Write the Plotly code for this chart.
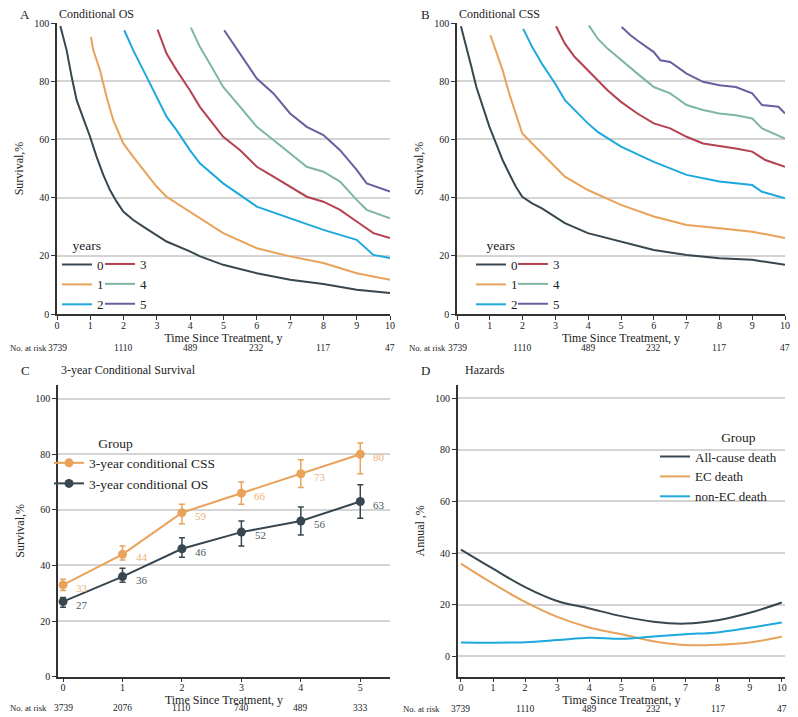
import plotly.graph_objects as go

W, H = 798, 717

# ---- panel A: conditional OS (Kaplan-Meier) ----
os_times = [
    [0.1, 0.29, 0.44, 0.59, 0.79, 0.99, 1.19, 1.39, 1.59, 1.79, 1.99, 2.29, 2.59, 2.99, 3.29, 3.99, 4.3, 4.99, 6.0, 7.0, 8.0, 9.0, 10.0],
    [1.02, 1.09, 1.29, 1.49, 1.69, 1.99, 2.29, 2.59, 2.99, 3.29, 3.99, 4.29, 4.99, 6.0, 7.0, 8.0, 9.0, 10.0],
    [2.02, 2.29, 2.59, 2.99, 3.29, 3.59, 3.99, 4.29, 4.99, 6.0, 7.0, 8.0, 9.0, 9.5, 10.0],
    [3.02, 3.29, 3.59, 3.99, 4.29, 4.59, 4.99, 5.5, 6.0, 6.5, 7.0, 7.5, 8.0, 8.5, 9.0, 9.5, 10.0],
    [4.02, 4.29, 4.59, 4.99, 5.5, 6.0, 6.5, 7.0, 7.5, 8.0, 8.5, 9.0, 9.3, 10.0],
    [5.02, 5.29, 5.5, 6.0, 6.5, 7.0, 7.5, 8.0, 8.5, 9.0, 9.3, 10.0],
]
os_surv = [
    [99, 90.6, 81.5, 73.5, 67.2, 61, 54, 47.8, 42.6, 38.6, 35.2, 32.3, 30, 27.2, 24.9, 21.5, 19.8, 16.9, 14, 11.8, 10.3, 8.3, 7.2],
    [95.2, 90.6, 83.8, 74.6, 66.6, 58.6, 54, 49.5, 43.8, 40.3, 35.2, 32.9, 27.8, 22.6, 19.8, 17.5, 14, 11.8],
    [97.5, 90.6, 83.8, 74.6, 67.8, 63.2, 56.3, 51.8, 44.9, 36.9, 32.9, 28.9, 25.5, 20.3, 19.2],
    [97.7, 89.5, 83.8, 76.9, 71.2, 66.6, 60.9, 56.3, 50.6, 47.2, 43.8, 40.3, 38.6, 35.8, 31.8, 27.8, 26.1],
    [98.4, 91.8, 86, 78, 71.2, 64.3, 59.8, 55.2, 50.6, 48.9, 45.5, 39.2, 35.8, 32.9],
    [97.5, 92.9, 89.5, 80.9, 75.8, 68.9, 64.3, 61.5, 56.3, 49.5, 44.9, 42.1],
]

# ---- panel B: conditional CSS ----
css_times = [
    [0.12, 0.29, 0.44, 0.59, 0.79, 0.99, 1.19, 1.39, 1.59, 1.79, 1.99, 2.29, 2.59, 2.99, 3.29, 3.99, 5.0, 6.0, 7.0, 8.0, 9.0, 10.0],
    [1.02, 1.19, 1.39, 1.59, 1.79, 1.99, 2.29, 2.59, 2.99, 3.29, 3.99, 5.0, 6.0, 7.0, 8.0, 9.0, 9.5, 10.0],
    [2.02, 2.29, 2.59, 2.99, 3.29, 3.59, 3.99, 4.29, 5.0, 6.0, 7.0, 8.0, 9.0, 9.3, 10.0],
    [3.02, 3.29, 3.59, 3.99, 4.29, 4.59, 5.0, 5.5, 6.0, 6.5, 7.0, 7.5, 8.0, 8.5, 9.0, 9.4, 10.0],
    [4.02, 4.29, 4.59, 5.0, 5.5, 6.0, 6.5, 7.0, 7.5, 8.0, 8.5, 9.0, 9.3, 10.0],
    [5.02, 5.29, 5.5, 6.0, 6.2, 6.5, 7.0, 7.5, 8.0, 8.5, 9.0, 9.3, 9.8, 10.0],
]
css_surv = [
    [98.9, 91.8, 84.9, 78, 71.2, 64.3, 58.6, 52.9, 48.3, 43.8, 40.3, 38, 36.3, 33.5, 31.2, 27.8, 24.9, 22, 20.3, 19.2, 18.6, 16.9],
    [95.8, 90.6, 83.8, 75.8, 68.9, 62, 58.6, 55.2, 50.6, 47.2, 42.6, 37.5, 33.5, 30.6, 29.5, 28.3, 27.2, 26.1],
    [98, 91.8, 86, 79.2, 73.5, 70.1, 65.5, 62.6, 57.5, 52.3, 47.8, 45.5, 44.3, 42, 39.8],
    [98.9, 92.9, 88.3, 83.8, 80.3, 76.9, 72.9, 68.9, 65.5, 63.8, 60.9, 58.6, 57.7, 56.9, 55.8, 52.9, 50.6],
    [99.2, 94.6, 91.2, 87.2, 82.6, 78, 75.8, 71.8, 70.1, 68.9, 68.3, 67.2, 63.8, 60.3],
    [98.6, 95.8, 94, 90, 87.2, 86.6, 82.6, 79.8, 78.6, 78, 75.8, 71.8, 71.2, 68.9],
]
year_names = ['0', '1', '2', '3', '4', '5']
risk_years = [0, 2, 4, 6, 8, 10]
risk_counts = ['3739', '1110', '489', '232', '117', '47']

# ---- panel C: 3-year conditional survival ----
c_years = [0, 1, 2, 3, 4, 5]
c_css = [33, 44, 59, 66, 73, 80]
c_css_hi = [35, 47, 62, 70, 78, 84]
c_css_lo = [31, 42, 55, 62, 68, 73]
c_os = [27, 36, 46, 52, 56, 63]
c_os_hi = [28.5, 39, 50, 56, 61, 69]
c_os_lo = [25, 34, 43, 47, 51, 57]
c_risk = ['3739', '2076', '1110', '740', '489', '333']

# ---- panel D: annual hazards ----
d_years = [0, 1, 2, 3, 4, 5, 6, 7, 8, 9, 10]
d_all = [41.3, 33.9, 26.8, 21.4, 18.5, 15.5, 13.3, 12.6, 13.9, 16.8, 20.8]
d_ec = [35.9, 28.1, 21, 15.2, 11.1, 8.5, 5.8, 4.3, 4.4, 5.3, 7.5]
d_nonec = [5.3, 5.2, 5.4, 6.2, 7.1, 6.7, 7.6, 8.5, 9.2, 11, 13]

DARK = '#37464f'
ORANGE = '#e8a25a'
BLUE = '#1ea9dc'
km_colors = [DARK, ORANGE, BLUE, '#b5414f', '#7fb79e', '#6a5e9e']
SERIF = 'Liberation Serif'
NB = '\u00a0'
OFF = 8  # page body margin the figure sits in


def px(x):
    return (x - OFF) / W


def py(y):
    return 1 - (y - OFF) / H


fig = go.Figure()

# A and B
for times, survs, xa, ya, legs in [(os_times, os_surv, 'x', 'y', ('legend', 'legend2')),
                                   (css_times, css_surv, 'x2', 'y2', ('legend3', 'legend4'))]:
    for i in range(6):
        fig.add_trace(go.Scatter(
            x=times[i], y=survs[i], mode='lines', name=year_names[i],
            line=dict(color=km_colors[i], width=2),
            xaxis=xa, yaxis=ya, legend=legs[0] if i < 3 else legs[1]))

# C
fig.add_trace(go.Scatter(
    x=c_years, y=c_css, mode='lines+markers', name='3-year conditional CSS',
    line=dict(color=ORANGE, width=2), marker=dict(size=9, color=ORANGE),
    error_y=dict(type='data', array=[h - v for h, v in zip(c_css_hi, c_css)],
                 arrayminus=[v - l for v, l in zip(c_css, c_css_lo)],
                 color=ORANGE, thickness=1.5, width=3),
    xaxis='x3', yaxis='y3', legend='legend5'))
fig.add_trace(go.Scatter(
    x=c_years, y=c_os, mode='lines+markers', name='3-year conditional OS',
    line=dict(color=DARK, width=2), marker=dict(size=9, color=DARK),
    error_y=dict(type='data', array=[h - v for h, v in zip(c_os_hi, c_os)],
                 arrayminus=[v - l for v, l in zip(c_os, c_os_lo)],
                 color=DARK, thickness=1.5, width=3),
    xaxis='x3', yaxis='y3', legend='legend5'))

# D
for name, vals, col in [('All-cause death', d_all, DARK), ('EC death', d_ec, ORANGE),
                        ('non-EC death', d_nonec, BLUE)]:
    fig.add_trace(go.Scatter(x=d_years, y=vals, mode='lines', name=name,
                             line=dict(color=col, width=2, shape='spline'),
                             xaxis='x4', yaxis='y4', legend='legend6'))

tickfont = dict(family=SERIF, size=10, color='#222')
titlefont = dict(family=SERIF, size=12, color='#222')


def xax(dom, rng, anchor):
    return dict(domain=dom, range=rng, anchor=anchor, dtick=1, tick0=0,
                showline=True, linecolor='#333', linewidth=1.5, ticks='outside',
                ticklen=4, tickcolor='#333', tickfont=tickfont, showgrid=False,
                zeroline=False, automargin=False, ticklabelstandoff=-3,
                title=dict(text='Time Since Treatment, y', font=titlefont, standoff=0))


def yax(dom, rng, anchor, title):
    return dict(domain=dom, range=rng, anchor=anchor, dtick=20, tick0=0,
                showline=True, linecolor='#333', linewidth=1.5, ticks='outside',
                ticklen=4, tickcolor='#333', tickfont=tickfont, showgrid=True,
                gridcolor='#d4d4d4', gridwidth=1.5, zeroline=False, automargin=False,
                title=dict(text=title, font=titlefont, standoff=8))


top_dom = [py(314), py(23)]
bot_dom = [py(676.7), py(385)]


def leg(x, y, size, title=None):
    d = dict(x=px(x), y=py(y), xanchor='left', yanchor='top', bgcolor='rgba(0,0,0,0)',
             font=dict(family=SERIF, size=size, color='#222'), itemwidth=30, tracegroupgap=0)
    if title:
        d['title'] = dict(text=title, font=dict(family=SERIF, size=13.5, color='#222'))
    return d


fig.update_layout(
    width=W, height=H, margin=dict(l=0, r=0, t=0, b=0, autoexpand=False),
    paper_bgcolor='white', plot_bgcolor='white',
    font=dict(family=SERIF, color='#222'),
    xaxis=xax([px(57), px(390)], [0, 10], 'y'),
    yaxis=yax(top_dom, [0, 100], 'x', 'Survival,%'),
    xaxis2=xax([px(457), px(785)], [0, 10], 'y2'),
    yaxis2=yax(top_dom, [0, 100], 'x2', 'Survival,%'),
    xaxis3=xax([px(58), px(390)], [-0.085, 5.5], 'y3'),
    yaxis3=yax(bot_dom, [0, 104.9], 'x3', 'Survival,%'),
    xaxis4=xax([px(457.7), px(785)], [-0.1, 10.1], 'y4'),
    yaxis4=yax(bot_dom, [-8, 105.2], 'x4', 'Annual ,%'),
    legend=leg(57, 232, 13, NB * 4 + 'years'),
    legend2=leg(100, 249, 13),
    legend3=leg(471, 232, 13, NB * 4 + 'years'),
    legend4=leg(513, 249, 13),
    legend5=leg(49, 430, 13.5, NB * 14 + 'Group'),
    legend6=leg(655, 424, 13, NB * 19 + 'Group'),
)

ann = []
# panel letters and titles (top row kept just inside the drawing area)
for letter, title, lx, tx, ty in [('A', 'Conditional OS', 25, 57, 14), ('B', 'Conditional CSS', 425, 457, 14),
                                  ('C', '3-year Conditional Survival', 25, 59, 370),
                                  ('D', 'Hazards', 425, 463, 370)]:
    ann.append(dict(text=letter, x=px(lx), y=py(ty), xref='paper', yref='paper', xanchor='center',
                    yanchor='middle', showarrow=False, font=dict(family=SERIF, size=13, color='#222')))
    ann.append(dict(text=title, x=px(tx), y=py(ty), xref='paper', yref='paper', xanchor='left',
                    yanchor='middle', showarrow=False, font=dict(family=SERIF, size=12, color='#222')))

# numbers at risk
riskfont = dict(family=SERIF, size=9.5, color='#222')
for xa, lab_x, row_y, xs, counts in [('x', 8, 347.7, risk_years, risk_counts),
                                     ('x2', 407, 347.7, risk_years, risk_counts),
                                     ('x3', 8, 708, c_years, c_risk),
                                     ('x4', 401, 708.5, risk_years, risk_counts)]:
    ann.append(dict(text='No. at risk', x=px(lab_x), y=py(row_y), xref='paper', yref='paper',
                    xanchor='left', yanchor='middle', showarrow=False,
                    font=dict(family=SERIF, size=8.7, color='#222')))
    for xv, cnt in zip(xs, counts):
        ann.append(dict(text=cnt, x=xv, y=py(row_y), xref=xa, yref='paper', xanchor='center',
                        yanchor='middle', showarrow=False, font=riskfont))

# point labels in C
for vals, col in [(c_css, '#ecb27a'), (c_os, '#4a5a63')]:
    for xv, v in zip(c_years, vals):
        ann.append(dict(text=str(v), x=xv, y=v, xref='x3', yref='y3', xshift=19, yshift=-3,
                        showarrow=False, font=dict(family=SERIF, size=11, color=col)))

fig.update_layout(annotations=ann)

fig.write_html("out.html")
